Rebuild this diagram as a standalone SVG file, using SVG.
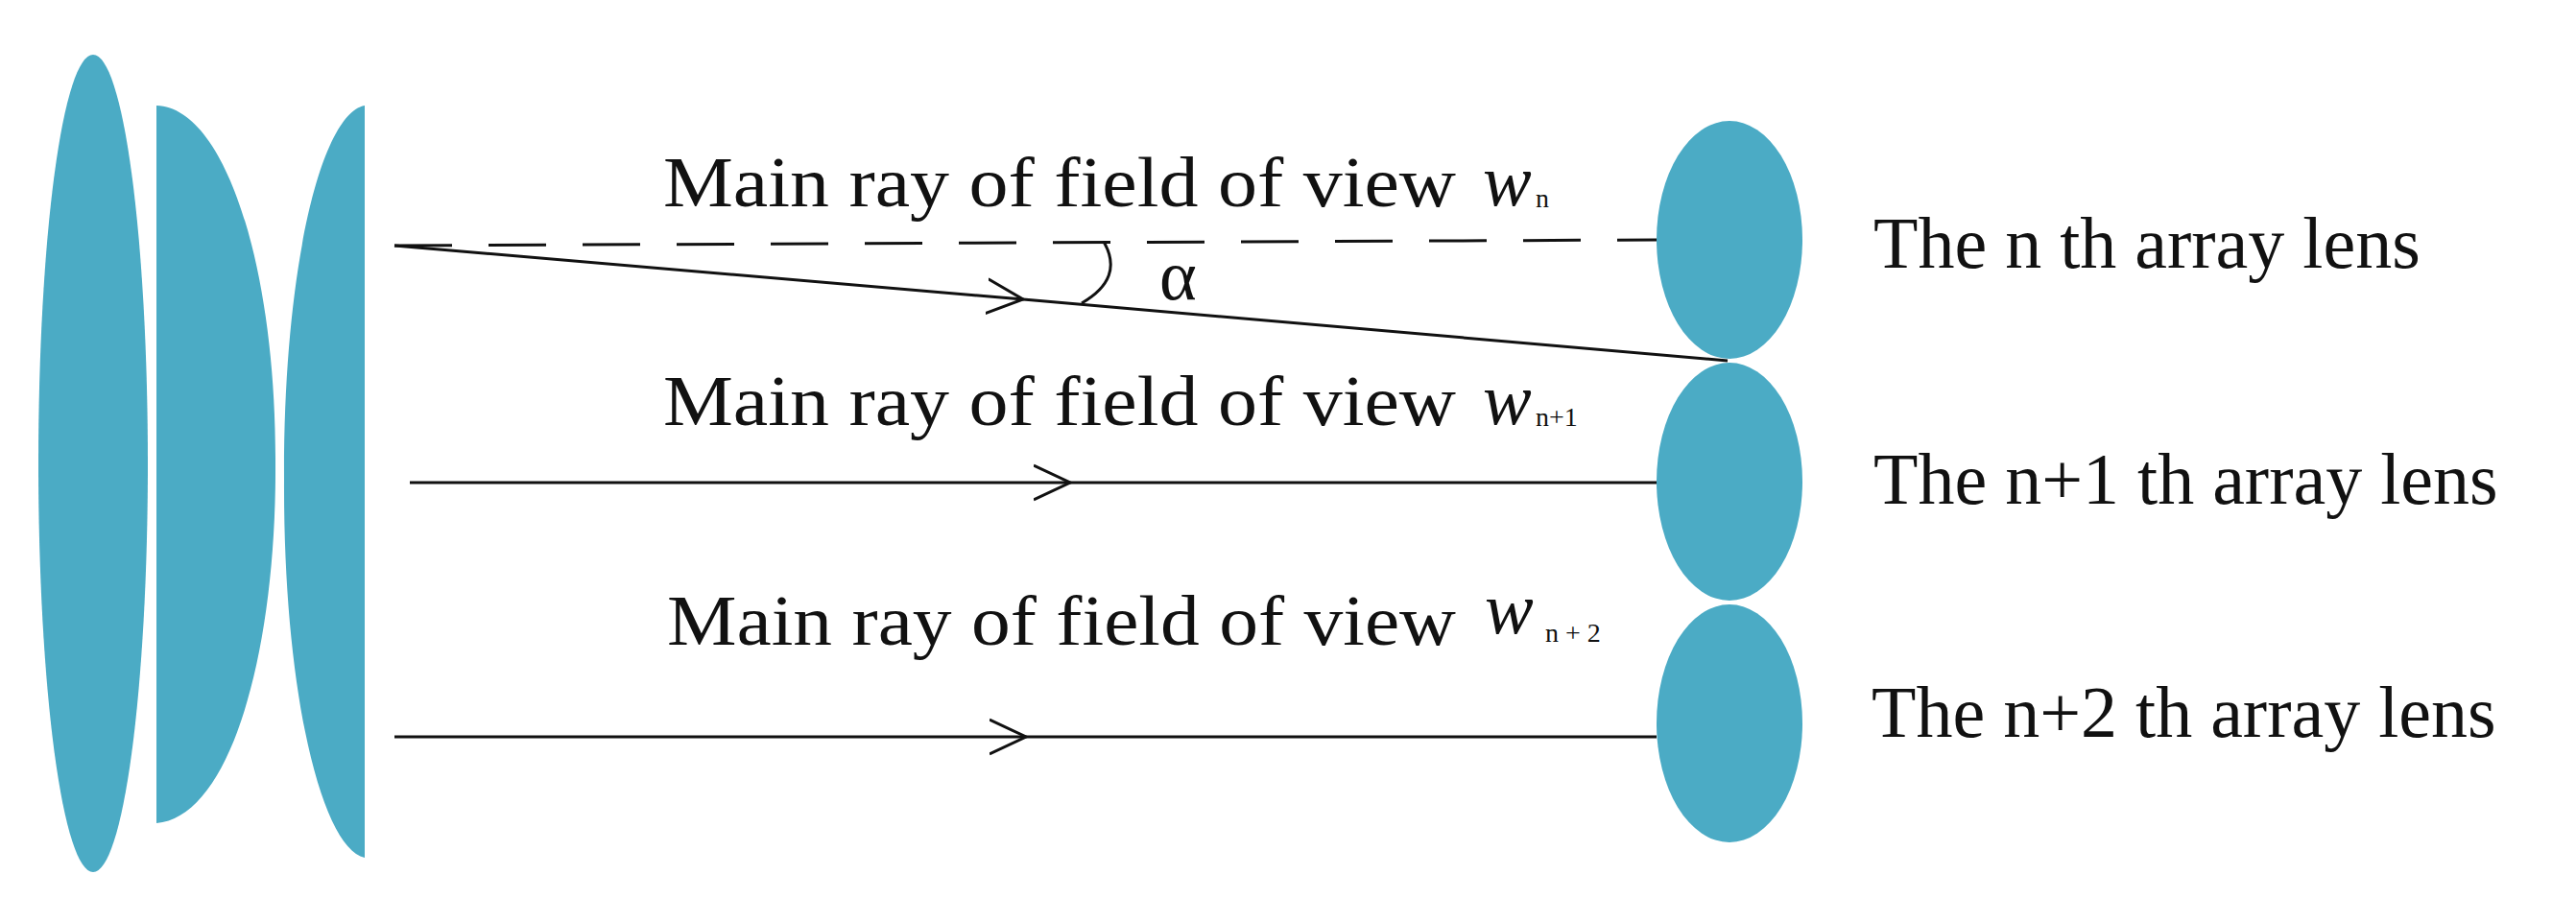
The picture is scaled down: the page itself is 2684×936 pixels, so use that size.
<svg xmlns="http://www.w3.org/2000/svg" width="2684" height="936" viewBox="0 0 2684 936">
<style>
.lens{fill:#4babc5}
.t{font-family:"Liberation Serif",serif;font-size:74px;fill:#111}
.w{font-family:"Liberation Serif",serif;font-style:italic;font-size:76px;fill:#111}
.s{font-family:"Liberation Serif",serif;font-size:28px;fill:#111}
.r{font-family:"Liberation Serif",serif;font-size:76px;fill:#111}
.ln{stroke:#111;stroke-width:3;fill:none}
</style>
<defs>
<marker id="chev" viewBox="0 0 40 40" refX="38" refY="20" markerWidth="40" markerHeight="40" markerUnits="userSpaceOnUse" orient="auto">
<path d="M0,2 L38,20 L0,38" fill="none" stroke="#111" stroke-width="3"/>
</marker>
</defs>
<g id="objective">
<ellipse class="lens" cx="97" cy="483" rx="57" ry="426"/>
<path class="lens" d="M163,110 C235,112 288,280 287,484 C288,680 240,852 163,858 Z"/>
<path class="lens" d="M380,110 C335,118 295,280 296,500 C295,720 335,884 380,894 Z"/>
</g>
<g id="lens-n"><ellipse class="lens" cx="1802" cy="250" rx="76" ry="124"/><text class="r" x="1952" y="279">The n th array lens</text></g>
<g id="lens-n1"><ellipse class="lens" cx="1802" cy="502" rx="76" ry="124"/><text class="r" x="1952" y="525">The n+1 th array lens</text></g>
<g id="lens-n2"><ellipse class="lens" cx="1802" cy="754" rx="76" ry="124"/><text class="r" x="1950" y="768">The n+2 th array lens</text></g>
<g id="labels">
<text class="t" x="691" y="215" textLength="826" lengthAdjust="spacingAndGlyphs">Main ray of field of view</text>
<text class="w" x="1545" y="214">w</text><text class="s" x="1600" y="216">n</text>
<text class="t" x="691" y="443" textLength="826" lengthAdjust="spacingAndGlyphs">Main ray of field of view</text>
<text class="w" x="1545" y="442">w</text><text class="s" x="1600" y="444">n+1</text>
<text class="t" x="695" y="672" textLength="822" lengthAdjust="spacingAndGlyphs">Main ray of field of view</text>
<text class="w" x="1547" y="660">w</text><text class="s" x="1610" y="669">n + 2</text>
<text class="t" x="1208" y="312">α</text>
</g>
<g id="connectors">
<line class="ln" x1="411" y1="256" x2="1726" y2="250" stroke-dasharray="60,38"/>
<line class="ln" x1="411" y1="256" x2="1066" y2="312" marker-end="url(#chev)"/>
<line class="ln" x1="1066" y1="312" x2="1800" y2="376"/>
<path class="ln" d="M1150,252 Q1172,290 1127,316"/>
<line class="ln" x1="427" y1="503" x2="1115" y2="503" marker-end="url(#chev)"/>
<line class="ln" x1="1115" y1="503" x2="1726" y2="503"/>
<line class="ln" x1="411" y1="768" x2="1069" y2="768" marker-end="url(#chev)"/>
<line class="ln" x1="1069" y1="768" x2="1726" y2="768"/>
</g>
</svg>
